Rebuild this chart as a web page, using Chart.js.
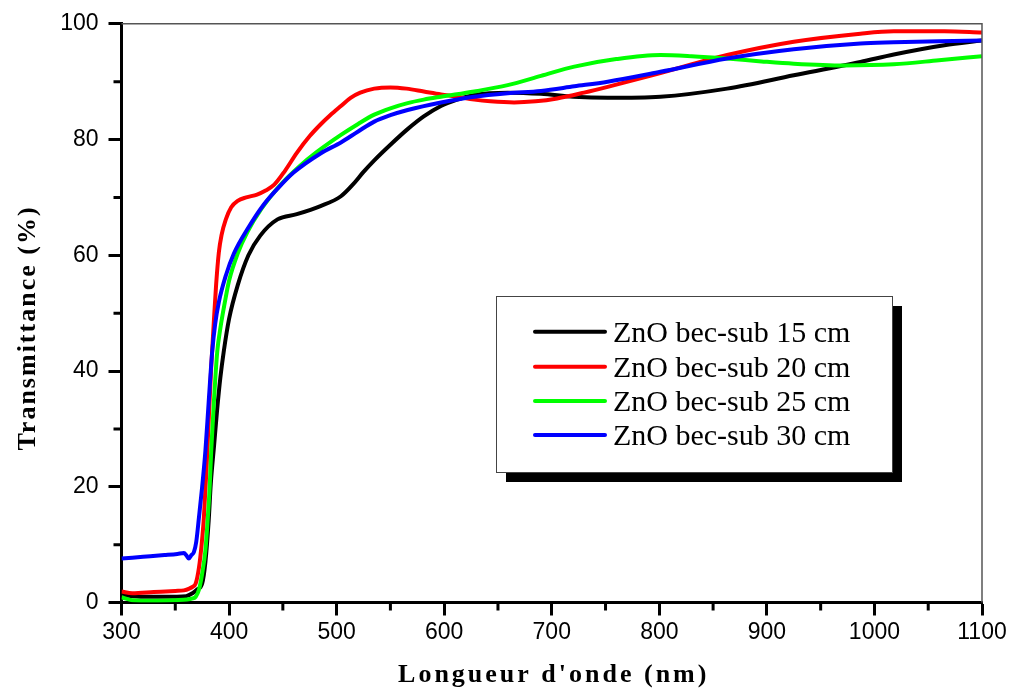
<!DOCTYPE html>
<html>
<head>
<meta charset="utf-8">
<script src="https://cdn.jsdelivr.net/npm/chart.js@4.4.1/dist/chart.umd.min.js"></script>
<style>
html,body{margin:0;padding:0;background:#fff;}
#wrap{width:1012px;height:694px;position:relative;}
</style>
</head>
<body>
<div id="wrap"><canvas id="c" width="1012" height="694"></canvas></div>
<script>
// ---- data (wavelength nm / transmittance %) ----
const seriesLabels = ["ZnO bec-sub 15 cm", "ZnO bec-sub 20 cm", "ZnO bec-sub 25 cm", "ZnO bec-sub 30 cm"];
const seriesColors = ["#000000", "#ff0000", "#00ff00", "#0000ff"];

const x15 = [300,320,340,360,366,370,375,378,381,383,386,389,392,395,400,408,418,429,445,463,485,504,515,525,535,550,566,581,597,612,628,659,690,720,752,801,863,925,987,1018,1065,1100];
const y15 = [1.3,1.0,1.0,1.1,1.6,2.2,3.3,7,14,20.5,27,33.5,39,43.3,49,54.8,60,63.4,66.2,67.1,68.5,70.2,72.2,74.4,76.4,79.1,81.8,84.0,85.8,86.9,87.7,88.1,87.9,87.4,87.2,87.4,88.8,91.1,93.4,94.7,96.3,97.1];

const x20 = [300,310,330,350,358,363,366,369,372,374.5,376.6,379,381.2,383.5,386,388,390.5,393,397,402,408,416,426,434,442,452,463,475,485,494,504,513,522,535,550,565,581,597,612,628,643,665,685,705,730,752,801,863,925,987,1018,1065,1100];
const y20 = [1.9,1.6,1.8,2.0,2.1,2.4,2.7,3.3,6,10,14.7,23,32,41,49,55,60.5,63.5,66.2,68.3,69.4,70,70.5,71.2,72.2,74.6,77.7,80.6,82.6,84.2,85.8,87.2,88.1,88.8,89.0,88.8,88.3,87.8,87.4,86.9,86.6,86.4,86.6,87.1,88.1,89.1,91.5,94.6,96.9,98.3,98.7,98.7,98.5];

const x25 = [300,310,330,350,361,366,369,372,375,378,380,382,383.4,386,389,392,396,400,408,417,430,448,465,482,504,520,535,550,566,581,597,628,659,690,721,760,801,830,863,895,925,972,1018,1060,1100];
const y25 = [0.9,0.4,0.3,0.4,0.5,0.7,1.0,2.2,5,9,14,20,26.2,35,43.3,47.5,51.8,55.6,60.3,64,68,72.2,75.3,77.9,80.8,82.7,84.3,85.4,86.3,86.9,87.4,88.3,89.4,91.0,92.6,93.9,94.6,94.4,94.0,93.5,93.1,92.8,93.0,93.7,94.4];

const x30 = [300,320,340,352,358,360.5,362.6,365,367.3,369.5,372,375,378,381,384.3,387,390.5,397,404.5,418,432,446,460,485,504,520,535,550,566,597,628,659,690,721,752,801,863,925,987,1018,1060,1100];
const y30 = [7.6,7.9,8.2,8.4,8.55,8.1,7.6,8.2,8.7,10.5,14.7,20,26.2,34.5,43.3,48,51.9,56.5,60.3,64.8,68.7,71.7,74.3,77.6,79.5,81.4,83.1,84.2,85.1,86.4,87.4,88.0,88.4,89.2,90.0,91.7,94.0,95.6,96.6,96.8,97.0,97.1];

const xTicksMajor = [300,400,500,600,700,800,900,1000,1100];
const yTicksMajor = [0,20,40,60,80,100];
const xTitle = "Longueur d'onde (nm)";
const yTitle = "Transmittance (%)";

const xs = [x15, x20, x25, x30];
const ys = [y15, y20, y25, y30];
const datasets = seriesLabels.map((lab, i) => ({
  label: lab,
  data: xs[i].map((x, j) => ({x: x, y: ys[i][j]})),
  borderColor: seriesColors[i],
  backgroundColor: seriesColors[i],
  borderWidth: 4,
  pointRadius: 0,
  fill: false,
  cubicInterpolationMode: 'monotone',
  order: 4 - i
}));

const extras = {
  id: 'extras',
  afterDraw(chart) {
    const ctx = chart.ctx;
    const a = chart.chartArea;
    const sx = chart.scales.x, sy = chart.scales.y;
    ctx.save();
    // top & right frame
    ctx.strokeStyle = '#555';
    ctx.lineWidth = 1.5;
    ctx.beginPath();
    ctx.moveTo(a.left, a.top); ctx.lineTo(a.right, a.top); ctx.lineTo(a.right, a.bottom);
    ctx.stroke();
    // minor ticks
    ctx.strokeStyle = '#000';
    ctx.lineWidth = 3;
    ctx.beginPath();
    for (let v = 350; v < 1100; v += 100) {
      const px = sx.getPixelForValue(v);
      ctx.moveTo(px, a.bottom); ctx.lineTo(px, a.bottom + 8);
    }
    for (let v = 10; v < 100; v += 20) {
      const py = sy.getPixelForValue(v);
      ctx.moveTo(a.left, py); ctx.lineTo(a.left - 8, py);
    }
    ctx.stroke();
    // axis titles
    ctx.fillStyle = '#000';
    ctx.font = 'bold 26px "Liberation Serif"';
    ctx.letterSpacing = '3px';
    ctx.textAlign = 'center';
    ctx.textBaseline = 'alphabetic';
    ctx.fillText(xTitle, (a.left + a.right) / 2 + 2, 682);
    ctx.save();
    ctx.translate(35, 328);
    ctx.rotate(-Math.PI / 2);
    ctx.letterSpacing = '2px';
    ctx.fillText(yTitle, 0, 0);
    ctx.restore();
    ctx.letterSpacing = '0px';
    // legend
    const bx = 496, by = 296, bw = 396, bh = 176;
    ctx.fillStyle = '#000';
    ctx.fillRect(bx + 10, by + 10, bw, bh);
    ctx.fillStyle = '#fff';
    ctx.fillRect(bx, by, bw, bh);
    ctx.strokeStyle = '#444';
    ctx.lineWidth = 1;
    ctx.strokeRect(bx + 0.5, by + 0.5, bw, bh);
    ctx.font = '30px "Liberation Serif"';
    ctx.textAlign = 'left';
    const rows = [331.7, 366.8, 400.9, 435];
    chart.data.datasets.forEach((ds, i) => {
      const ry = rows[i];
      ctx.strokeStyle = ds.borderColor;
      ctx.lineWidth = 4;
      ctx.lineCap = 'round';
      ctx.beginPath();
      ctx.moveTo(535, ry); ctx.lineTo(605, ry);
      ctx.stroke();
      ctx.fillStyle = '#000';
      ctx.fillText(ds.label, 613, ry + 10);
    });
    ctx.restore();
  }
};

new Chart(document.getElementById('c'), {
  type: 'line',
  data: { datasets: datasets },
  options: {
    responsive: false,
    animation: false,
    layout: { padding: { left: 0, right: 30, top: 20, bottom: 0 } },
    plugins: { legend: { display: false }, tooltip: { enabled: false } },
    scales: {
      x: {
        type: 'linear', min: 300, max: 1100,
        afterBuildTicks: (s) => { s.ticks = xTicksMajor.map(v => ({value: v})); },
        afterFit: (s) => { s.height = 91.5; },
        ticks: { color: '#000', padding: 3, font: { family: '"Liberation Sans"', size: 23 }, callback: (v) => String(v) },
        grid: { drawOnChartArea: false, drawTicks: true, tickLength: 13, tickWidth: 3, tickColor: '#000' },
        border: { color: '#000', width: 3 }
      },
      y: {
        type: 'linear', min: 0, max: 100,
        afterBuildTicks: (s) => { s.ticks = yTicksMajor.map(v => ({value: v})); },
        afterFit: (s) => { s.width = 121.5; },
        ticks: { color: '#000', padding: 10, font: { family: '"Liberation Sans"', size: 23 }, callback: (v) => String(v) },
        grid: { drawOnChartArea: false, drawTicks: true, tickLength: 13, tickWidth: 3, tickColor: '#000' },
        border: { color: '#000', width: 3 }
      }
    }
  },
  plugins: [extras]
});
</script>
</body>
</html>
